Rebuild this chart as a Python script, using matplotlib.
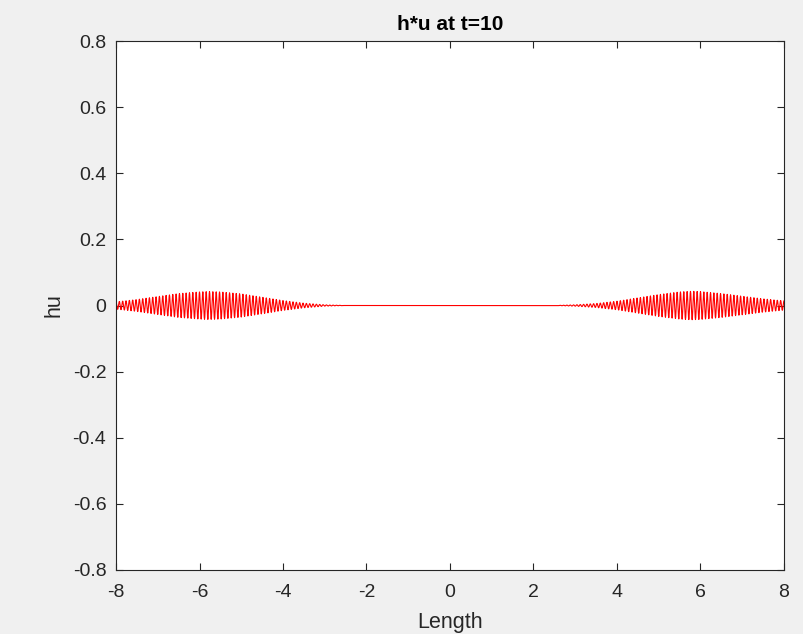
import numpy as np
import matplotlib
matplotlib.use("Agg")
import matplotlib.pyplot as plt

# Envelope of the two wave packets
left_x = [-8, -7.5, -7, -6.5, -6, -5.8, -5.5, -5, -4.5, -4, -3.5, -3, -2.5]
left_amp = [0.011, 0.018, 0.027, 0.036, 0.041, 0.042, 0.041, 0.035, 0.025, 0.015, 0.007, 0.002, 0.0]
right_x = [2.5, 3, 3.5, 4, 4.5, 5, 5.5, 5.8, 6, 6.5, 7, 7.5, 8]
right_amp = [0.0, 0.002, 0.006, 0.013, 0.023, 0.033, 0.041, 0.043, 0.042, 0.036, 0.028, 0.020, 0.014]
cycles_per_unit = 12.5
x_ticks = [-8, -6, -4, -2, 0, 2, 4, 6, 8]
y_ticks = [-0.8, -0.6, -0.4, -0.2, 0, 0.2, 0.4, 0.6, 0.8]

x = np.linspace(-8, 8, 2401)
env = np.interp(x, left_x, left_amp, left=0, right=0) + np.interp(x, right_x, right_amp, left=0, right=0)
hu = env * np.cos(2 * np.pi * cycles_per_unit * x)

plt.rcParams['font.family'] = ['Liberation Sans', 'DejaVu Sans']
fig = plt.figure(figsize=(8.04, 6.34), dpi=100, facecolor='#f0f0f0')
ax = fig.add_axes([116/804, 64/634, 668/804, 529/634])
ax.set_facecolor('white')
ax.plot(x, hu, color='red', linewidth=0.8)
ax.set_xlim(-8, 8)
ax.set_ylim(-0.8, 0.8)
ax.set_xticks(x_ticks)
ax.set_yticks(y_ticks)
ax.set_xticklabels([str(v) for v in x_ticks])
ax.set_yticklabels(['-0.8', '-0.6', '-0.4', '-0.2', '0', '0.2', '0.4', '0.6', '0.8'])
edge = '#262626'
for s in ax.spines.values():
    s.set_color(edge)
    s.set_linewidth(0.8)
ax.tick_params(direction='in', top=True, right=True, length=5, width=0.8,
               colors=edge, labelsize=14, labelcolor=edge)
ax.tick_params(axis='x', pad=10)
ax.tick_params(axis='y', pad=7)
ax.set_xlabel('Length', fontsize=15.5, color=edge, labelpad=8)
ax.set_ylabel('hu', fontsize=15.5, color=edge, labelpad=6)
ax.set_title('h*u at t=10', fontsize=15, fontweight='bold', color='black', pad=8)
fig.savefig('out.png', dpi=100, facecolor=fig.get_facecolor())
